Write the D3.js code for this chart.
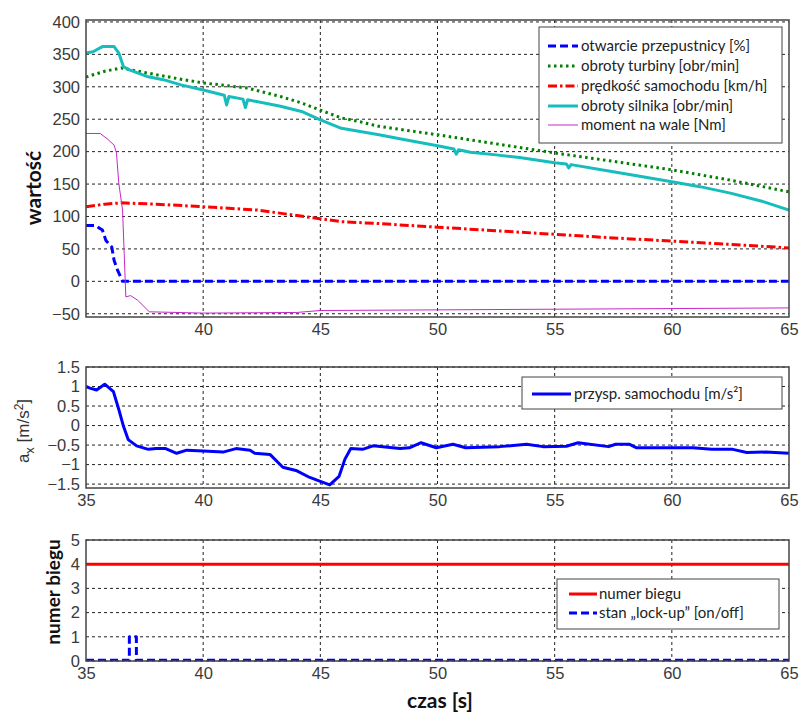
<!DOCTYPE html>
<html>
<head>
<meta charset="utf-8">
<script src="https://cdn.jsdelivr.net/npm/d3@7"></script>
<style>
  body { margin: 0; background: #fff; }
  .tick text { font-family: "Liberation Sans", Arial, sans-serif; font-size: 16.5px; fill: #3a3a3a; }
  .leg { font-family: Lato, "Open Sans", sans-serif; font-size: 15px; fill: #222; }
</style>
</head>
<body>
<div id="chart"></div>
<script>
const width = 799, height = 715;

// ---- data ----
const xTicks = [35, 40, 45, 50, 55, 60, 65];

// top panel
const throttleT = [35, 35.4, 35.7, 35.85, 36.1, 36.2, 36.35, 36.56, 40, 65];
const throttleV = [86, 86, 79, 63, 53, 32, 17, 0, 0, 0];

const turbineT = [35, 35.8, 36.5, 37.5, 39, 40, 41.9, 43.3, 44.2, 45, 45.9, 46.7, 47.5, 50, 52.5, 55, 57.5, 60, 62.5, 65];
const turbineV = [315, 324, 329, 322, 312, 306, 298, 285, 275, 264, 252, 246, 239, 226, 212, 198, 185, 172, 156, 138];

const speedT = [35, 35.8, 36.5, 38, 40, 42.3, 44.7, 45.9, 47.5, 50, 52.5, 55, 57.5, 60, 62.5, 65];
const speedV = [115, 119, 121, 119, 115, 110, 98, 92, 89, 83.5, 78, 72.5, 67, 62, 57, 51.5];

const engineT = [35, 35.3, 35.7, 36.2, 36.4, 36.6, 36.85, 37.6, 38.3, 39.05, 40, 40.9, 41, 41.1, 41.7, 41.8, 41.9, 43.3, 44.2, 45, 45.9, 46.7, 47.5, 48.5, 50, 50.7, 50.8, 50.9, 51.4, 52.5, 53.5, 55, 55.5, 55.6, 55.7, 57.5, 60, 61.2, 62.5, 63.8, 65];
const engineV = [352, 354, 362, 362, 352, 331, 326, 316, 311, 303, 295, 287, 272, 285, 281, 268, 280, 270, 262, 249, 236, 231, 226, 219, 209, 204, 196, 203, 199, 195, 191, 183, 181, 175, 180, 169, 153.5, 146, 136, 124, 110];

const torqueT = [35, 35.6, 35.9, 36.2, 36.3, 36.4, 36.56, 36.63, 36.7, 36.9, 37.2, 37.7, 40, 44, 45, 50, 55, 60, 65];
const torqueV = [228, 228, 220, 210, 198, 151, 110, 43, -24, -22, -29, -47, -49, -48, -45, -44, -43, -42, -41];

// middle panel
const accT = [35, 35.17, 35.45, 35.8, 36.17, 36.4, 36.6, 36.8, 37.16, 37.66, 38, 38.4, 38.87, 39.3, 40, 40.85, 41.4, 42, 42.2, 42.85, 43.4, 44, 44.55, 45, 45.4, 45.8, 46.05, 46.3, 46.8, 47.25, 48.4, 48.8, 49.3, 49.95, 50.66, 51.2, 52.65, 53.8, 54.5, 55.5, 56, 57.3, 57.6, 58.2, 58.5, 60, 60.9, 61.7, 62.6, 63.2, 64, 65];
const accV = [1.0, 0.96, 0.91, 1.06, 0.87, 0.41, -0.02, -0.36, -0.52, -0.61, -0.59, -0.59, -0.71, -0.63, -0.65, -0.68, -0.59, -0.63, -0.71, -0.74, -1.07, -1.16, -1.33, -1.43, -1.52, -1.3, -0.86, -0.59, -0.61, -0.52, -0.59, -0.57, -0.44, -0.57, -0.48, -0.57, -0.54, -0.48, -0.54, -0.53, -0.44, -0.54, -0.48, -0.48, -0.57, -0.57, -0.57, -0.61, -0.61, -0.69, -0.68, -0.71];

// bottom panel
const gearT = [35, 65];
const gearV = [4, 4];
const lockT = [35, 36.85, 36.85, 37.15, 37.15, 65];
const lockV = [0.03, 0.03, 1, 1, 0.03, 0.03];

const topLegend = ["otwarcie przepustnicy [%]", "obroty turbiny [obr/min]", "prędkość  samochodu [km/h]", "obroty silnika [obr/min]", "moment na wale [Nm]"];
const midLegend = ["przysp. samochodu [m/s²]"];
const botLegend = ["numer biegu", "stan „lock-up” [on/off]"];

// ---- styles ----
const sty = {
  throttle: { color: "#0000ff", w: 3, dash: "8,4" },
  turbine: { color: "#008000", w: 3, dash: "2.5,3.5" },
  speed: { color: "#ff0000", w: 3, dash: "9,3,2.5,3" },
  engine: { color: "#17bdbd", w: 3, dash: null },
  torque: { color: "#c728c7", w: 1, dash: null },
  acc: { color: "#0000ff", w: 3, dash: null },
  gear: { color: "#ff0000", w: 3, dash: null },
  lock: { color: "#0000ff", w: 3, dash: "8,4" }
};

const svg = d3.select("#chart").append("svg")
  .attr("width", width).attr("height", height);

const left = 86, right = 789;

function panel(top, bottom, yDomain, yTicks, xTickVals, yFmt) {
  const x = d3.scaleLinear().domain([35, 65]).range([left, right]);
  const y = d3.scaleLinear().domain(yDomain).range([bottom, top]);
  const g = svg.append("g");

  // grid
  g.append("g").selectAll("line").data(xTicks.slice(1, -1)).join("line")
    .attr("x1", d => x(d)).attr("x2", d => x(d)).attr("y1", top).attr("y2", bottom)
    .attr("stroke", "#222").attr("stroke-width", 1).attr("stroke-dasharray", "3,3");
  g.append("g").selectAll("line").data(yTicks).join("line")
    .attr("x1", left).attr("x2", right).attr("y1", d => y(d)).attr("y2", d => y(d))
    .attr("stroke", "#222").attr("stroke-width", 1).attr("stroke-dasharray", "3,3");

  // axes
  g.append("g").attr("transform", `translate(${left},0)`)
    .call(d3.axisLeft(y).tickValues(yTicks).tickSize(0).tickPadding(6).tickFormat(yFmt))
    .call(a => a.select(".domain").remove());
  g.append("g").attr("transform", `translate(0,${bottom})`)
    .call(d3.axisBottom(x).tickValues(xTickVals).tickSize(0).tickPadding(6))
    .call(a => a.select(".domain").remove());

  const clipId = "clip" + top;
  svg.append("clipPath").attr("id", clipId).append("rect")
    .attr("x", left).attr("y", top).attr("width", right - left).attr("height", bottom - top);
  const plot = svg.append("g").attr("clip-path", `url(#${clipId})`);

  const frame = () => svg.append("rect").attr("x", left).attr("y", top)
    .attr("width", right - left).attr("height", bottom - top)
    .attr("fill", "none").attr("stroke", "#444").attr("stroke-width", 1.5);
  return { x, y, plot, frame };
}

function drawLine(p, T, V, s) {
  const line = d3.line().x((d, i) => p.x(T[i])).y(d => p.y(d));
  p.plot.append("path").datum(V).attr("d", line)
    .attr("fill", "none").attr("stroke", s.color).attr("stroke-width", s.w)
    .attr("stroke-dasharray", s.dash).attr("stroke-linejoin", "round");
}

function legend(x0, y0, w, h, rows, styles, lineX1, lineX2, textX, rowY) {
  svg.append("rect").attr("x", x0).attr("y", y0).attr("width", w).attr("height", h)
    .attr("fill", "#fff").attr("stroke", "#444").attr("stroke-width", 1);
  rows.forEach((t, i) => {
    const s = styles[i];
    svg.append("line").attr("x1", lineX1).attr("x2", lineX2).attr("y1", rowY[i]).attr("y2", rowY[i])
      .attr("stroke", s.color).attr("stroke-width", s.w).attr("stroke-dasharray", s.dash);
    svg.append("text").attr("class", "leg").attr("x", textX).attr("y", rowY[i] + 5).text(t);
  });
}

// ---- top panel ----
const p1 = panel(20, 317, [-55, 403], [-50, 0, 50, 100, 150, 200, 250, 300, 350, 400], xTicks.slice(1), d3.format("d"));
drawLine(p1, throttleT, throttleV, sty.throttle);
drawLine(p1, turbineT, turbineV, sty.turbine);
drawLine(p1, speedT, speedV, sty.speed);
drawLine(p1, engineT, engineV, sty.engine);
drawLine(p1, torqueT, torqueV, sty.torque);
p1.frame();
legend(539, 27, 243, 116, topLegend,
  [sty.throttle, sty.turbine, sty.speed, sty.engine, sty.torque], 548, 578, 581, [46, 66, 86, 106, 125]);

// ---- middle panel ----
const p2 = panel(367, 488, [-1.6, 1.5], [-1.5, -1, -0.5, 0, 0.5, 1, 1.5], xTicks, d => d3.format("")(d));
drawLine(p2, accT, accV, sty.acc);
p2.frame();
legend(522, 377, 260, 32, midLegend, [sty.acc], 532, 571, 574, [394]);

// ---- bottom panel ----
const p3 = panel(540, 661, [0, 5], [0, 1, 2, 3, 4, 5], xTicks, d3.format("d"));
drawLine(p3, gearT, gearV, sty.gear);
drawLine(p3, lockT, lockV, sty.lock);
p3.frame();
legend(557, 579, 222, 50, botLegend, [sty.gear, sty.lock], 569, 597, 599, [594, 613]);

// ---- axis titles ----
svg.append("text").attr("transform", "translate(41,188) rotate(-90)")
  .attr("text-anchor", "middle").style("font-family", "Lato, sans-serif")
  .style("font-size", "21px").style("font-weight", "bold").attr("fill", "#111").text("wartość");

const ax = svg.append("text").attr("transform", "translate(29,431) rotate(-90)")
  .attr("text-anchor", "middle").style("font-family", "Liberation Sans, Arial, sans-serif")
  .style("font-size", "17px").attr("fill", "#333");
ax.append("tspan").text("a");
ax.append("tspan").attr("dy", 5).style("font-size", "13px").text("x");
ax.append("tspan").attr("dy", -5).text(" [m/s");
ax.append("tspan").attr("dy", -6).style("font-size", "12px").text("2");
ax.append("tspan").attr("dy", 6).text("]");

svg.append("text").attr("transform", "translate(60,592) rotate(-90)")
  .attr("text-anchor", "middle").style("font-family", "Lato, sans-serif")
  .style("font-size", "19px").style("font-weight", "bold").attr("fill", "#111").text("numer biegu");

svg.append("text").attr("x", 440).attr("y", 708)
  .attr("text-anchor", "middle").style("font-family", "Lato, sans-serif")
  .style("font-size", "21px").style("font-weight", "bold").attr("fill", "#111").text("czas [s]");
</script>
</body>
</html>
